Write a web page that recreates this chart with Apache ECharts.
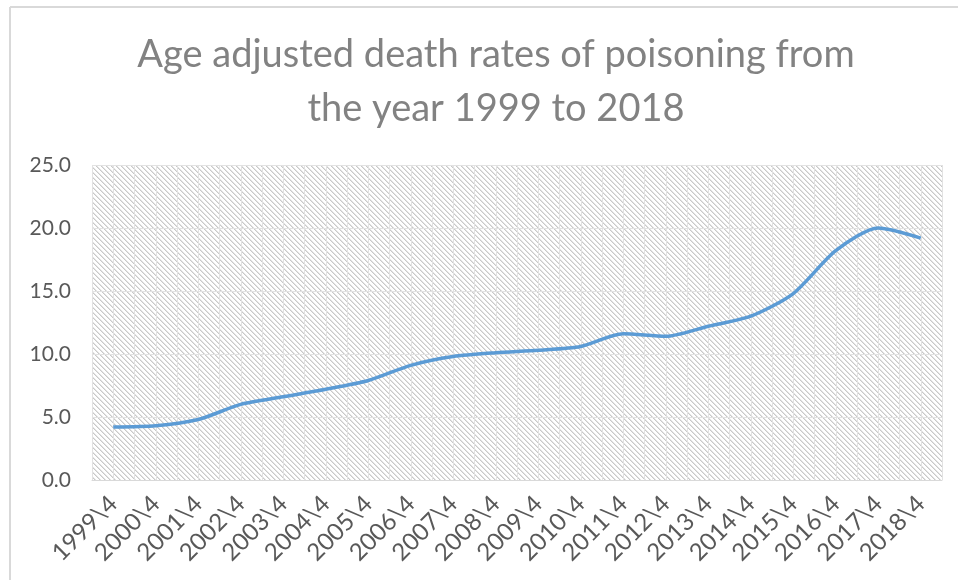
<!DOCTYPE html>
<html>
<head>
<meta charset="utf-8">
<script src="https://cdn.jsdelivr.net/npm/echarts@6/dist/echarts.min.js"></script>
<style>
html,body{margin:0;padding:0;background:#fff;}
#chart{width:958px;height:580px;}
</style>
</head>
<body>
<div id="chart"></div>
<script>
var titleText = "Age adjusted death rates of poisoning from\nthe year 1999 to 2018";
var categories = ["1999\\4","2000\\4","2001\\4","2002\\4","2003\\4","2004\\4","2005\\4","2006\\4","2007\\4","2008\\4","2009\\4","2010\\4","2011\\4","2012\\4","2013\\4","2014\\4","2015\\4","2016\\4","2017\\4","2018\\4"];
var rates = [4.2,4.3,4.8,6.0,6.6,7.2,7.9,9.1,9.8,10.1,10.3,10.6,11.6,11.4,12.2,13.0,14.8,18.2,20.0,19.2];
var yTicks = [0,5,10,15,20,25];

// hatch pattern tile
var tile = document.createElement('canvas');
tile.width = 5; tile.height = 5;
var tc = tile.getContext('2d');
tc.fillStyle = '#ffffff';
tc.fillRect(0,0,5,5);
for (var i = 0; i < 5; i++) {
  tc.fillStyle = '#c9c9c9';
  tc.fillRect(i, i, 1, 1);
  tc.fillStyle = '#e3e3e3';
  tc.fillRect((i + 1) % 5, i, 1, 1);
}

var chart = echarts.init(document.getElementById('chart'), null, {renderer: 'canvas'});
var option = {
  backgroundColor: '#ffffff',
  animation: false,
  title: {
    text: titleText,
    left: 491,
    textAlign: 'center',
    top: 23,
    textStyle: {
      fontFamily: 'Lato',
      fontSize: 38,
      fontWeight: 'normal',
      color: '#828282',
      lineHeight: 54
    }
  },
  graphic: [
    {type: 'line', shape: {x1: 10, y1: 7, x2: 958, y2: 7}, style: {stroke: '#d9d9d9', lineWidth: 2}, silent: true},
    {type: 'line', shape: {x1: 10, y1: 7, x2: 10, y2: 580}, style: {stroke: '#d9d9d9', lineWidth: 2}, silent: true}
  ],
  grid: {
    left: 92, right: 16, top: 165, bottom: 100,
    show: true,
    borderWidth: 0,
    backgroundColor: {image: tile, repeat: 'repeat'}
  },
  xAxis: [
    {
      type: 'category',
      data: categories,
      boundaryGap: true,
      axisLine: {show: true, lineStyle: {color: '#d9d9d9', width: 1}},
      axisTick: {show: false},
      splitLine: {show: false},
      axisLabel: {
        rotate: 45,
        interval: 0,
        margin: 20,
        fontFamily: 'Lato',
        fontSize: 24,
        color: '#595959'
      }
    },
    {
      type: 'value',
      min: 0, max: 40, interval: 1,
      position: 'top',
      axisLine: {show: false},
      axisTick: {show: false},
      axisLabel: {show: false},
      splitLine: {show: true, lineStyle: {color: '#e2e2e2', width: 1}}
    }
  ],
  yAxis: {
    type: 'value',
    min: yTicks[0],
    max: yTicks[yTicks.length - 1],
    interval: 5,
    axisLine: {show: false},
    axisTick: {show: false},
    axisLabel: {
      margin: 21,
      fontFamily: 'Lato',
      fontSize: 21,
      color: '#595959',
      formatter: function (v) { return v.toFixed(1); }
    },
    splitLine: {show: true, lineStyle: {color: '#e2e2e2', width: 1}}
  },
  series: [{
    type: 'line',
    xAxisIndex: 0,
    data: rates,
    smooth: 0.25,
    symbol: 'none',
    lineStyle: {color: '#5b9bd5', width: 3.5},
    itemStyle: {color: '#5b9bd5'}
  }]
};
chart.setOption(option);
</script>
</body>
</html>
